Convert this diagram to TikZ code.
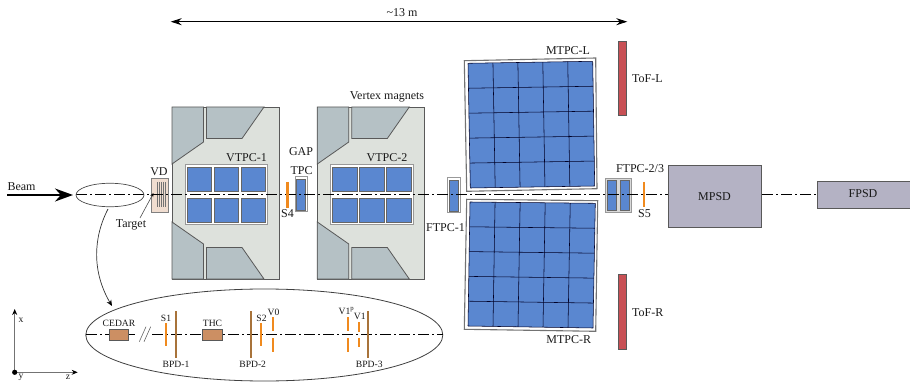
\documentclass[tikz,border=0pt]{standalone}
\usepackage{fontspec}
\setmainfont{Liberation Serif}
\usetikzlibrary{arrows.meta,shapes.geometric}
\definecolor{magfill}{HTML}{DDE1DC}
\definecolor{yokefill}{HTML}{B5C1C5}
\definecolor{bluefill}{HTML}{5A87D0}
\definecolor{orangefill}{HTML}{F08A1E}
\definecolor{brownfill}{HTML}{A8733A}
\definecolor{boxfill}{HTML}{CC8F63}
\definecolor{vdfill}{HTML}{F0DDD0}
\definecolor{psdfill}{HTML}{B4B2C4}
\definecolor{toffill}{HTML}{C85055}
\tikzset{
 x=1pt,y=-1pt,
 lbl/.style={inner sep=0pt,font=\fontsize{12}{14}\selectfont,text=black!90},
 slbl/.style={inner sep=0pt,font=\fontsize{9.6}{11}\selectfont,text=black!90},
 magnet/.style={draw=black!65,fill=magfill,line width=.8pt},
 yoke/.style={draw=black!65,fill=yokefill,line width=.8pt},
 frameb/.style={draw=black!40,fill=white,line width=1pt},
 bluebox/.style={draw=black!60,fill=bluefill,line width=.7pt},
 det/.style={draw=orangefill,line width=2.1pt},
 bpd/.style={draw=brownfill,line width=2.1pt},
 beamline/.style={draw=black,line width=1pt,dash pattern=on 11pt off 3pt on 2pt off 3pt},
 smallbox/.style={draw=black!65,fill=boxfill,line width=.7pt},
 psd/.style={draw=black!65,fill=psdfill,line width=.8pt},
 tof/.style={draw=black!65,fill=toffill,line width=.8pt},
 axis/.style={draw=black!55,line width=.8pt,-{Stealth[black,length=6pt,width=5pt]}},
}
\newcommand{\quadmesh}[8]{% x1 y1 x2 y2 x3 y3 x4 y4 (TL TR BR BL)
 \fill[bluefill] (#1,#2)--(#3,#4)--(#5,#6)--(#7,#8)--cycle;
 \foreach \t in {0,1,...,5}{
  \pgfmathsetmacro{\f}{\t/5}
  \draw[black!85!blue,line width=.55pt]
   ({#1+(#3-#1)*\f},{#2+(#4-#2)*\f})--({#7+(#5-#7)*\f},{#8+(#6-#8)*\f});
  \draw[black!85!blue,line width=.55pt]
   ({#1+(#7-#1)*\f},{#2+(#8-#2)*\f})--({#3+(#5-#3)*\f},{#4+(#6-#4)*\f});
 }
}
\newcommand{\vtpc}[2]{% x offset, name
 \begin{scope}[shift={(#1,0)}]
 \node[magnet,minimum width=107pt,minimum height=172pt,anchor=north west,inner sep=0pt] (mag#2) at (172,107) {};
 \draw[yoke] (172,107)--(203.5,107)--(203.5,142)--(172,164)--cycle;
 \draw[yoke] (206.5,107)--(264,107)--(242,138.5)--(206.5,138.5)--cycle;
 \draw[yoke] (172,222)--(203.5,244)--(203.5,279)--(172,279)--cycle;
 \draw[yoke] (206.5,247.5)--(242,247.5)--(264,279)--(206.5,279)--cycle;
 \draw[frameb] (185.3,165) rectangle (267.7,224.7);
 \foreach \a/\b in {187/211.7,214/238.7,241/265.7}{
  \draw[bluebox] (\a,167.3) rectangle (\b,191.7);
  \draw[bluebox] (\a,198.7) rectangle (\b,222.7);
 }
 \end{scope}
}
\begin{document}
\begin{tikzpicture}
\useasboundingbox (0,0) rectangle (910,382);
% magnets
\vtpc{0}{a}
\vtpc{145.3}{b}
% MTPC
\draw[draw=black!55,fill=white,line width=1.1pt] (464.3,60.7)--(595.7,58)--(597,188.7)--(466.7,191.3)--cycle;
\quadmesh{468}{63.3}{592.7}{61.3}{594.7}{186}{470.3}{188}
\draw[draw=black!55,fill=white,line width=1.1pt] (466.7,199.3)--(597.7,200.7)--(595.7,331.3)--(464.3,329.3)--cycle;
\quadmesh{470}{202}{595.3}{203.3}{593}{328}{468}{326}
% VD
\node[draw=black!50,fill=vdfill,line width=.8pt,minimum width=17pt,minimum height=34pt,inner sep=0pt] (vd) at (159.5,195) {};
\foreach \x in {157.5,159.5,161.5,163.5,165.5}
 \draw[black!55,line width=.7pt] (\x,182)--(\x,207);
% GAP TPC, FTPCs
\draw[frameb] (295,177) rectangle (307,212);
\draw[bluebox] (296.7,179) rectangle (305.3,210);
\draw[frameb] (447.3,178) rectangle (460.3,213);
\draw[bluebox] (449.3,180.7) rectangle (458.3,211.7);
\draw[draw=black!40,fill=black!15,line width=1pt] (605.7,178.3) rectangle (631,212.3);
\draw[bluebox] (607.7,180) rectangle (616.7,210.7);
\draw[bluebox] (620.3,180) rectangle (629,210.7);
% PSD
\node[psd,minimum width=93.4pt,minimum height=62.4pt,inner sep=0pt] (mpsd) at (715,196.5) {};
\draw[psd] (817.7,181.7) -- (911,181.7) -- (911,208.3) -- (817.7,208.3) -- cycle;
\coordinate (fpsdw) at (817.7,195);
% ToF
\draw[tof] (618,41.3) rectangle (626.7,115);
\draw[tof] (618,274.3) rectangle (626.7,349);
% beam line
\coordinate (bl0) at (76,195);
\draw[beamline] (bl0)--(mpsd.west |- bl0);
\draw[beamline] (mpsd.east |- bl0)--(fpsdw);
% orange scintillators
\draw[det] (287.5,182)--(287.5,208);
\draw[det] (644,182)--(644,207);
% beam arrow
\coordinate (beam0) at (7,195);
\coordinate (beam1) at (73,195);
\draw[black,line width=1.6pt,-{Stealth[length=18pt,width=13pt]}] (beam0)--(beam1);
\node[draw=black!70,line width=.7pt,ellipse,minimum width=68pt,minimum height=23.5pt,inner sep=0pt] (upell) at (110,195) {};
% target arrow
\coordinate (tgt) at (153.5,193);
\node[lbl] (target) at (131,224.5) {Target};
\coordinate (tgt0) at (140,218);
\draw[black!70,line width=.6pt,-{Stealth[black,length=4pt,width=3.5pt]}] (tgt0)--(tgt);
% lower ellipse
\node[draw=black!75,line width=.8pt,ellipse,minimum width=357pt,minimum height=92pt,inner sep=0pt] (lowell) at (264.3,335) {};
\coordinate (callA) at (108,209);
\coordinate (callB) at (112,306);
\draw[black!80,line width=.7pt,-{Stealth[black,length=6pt,width=5pt]}] (callA) .. controls (93,238) and (92,272) .. (callB);
% lower beam line
\draw[beamline] (86,334.3)--(137,334.3);
\draw[beamline] (152,334.3)--(442.7,334.3);
\draw[black!60,line width=.6pt] (139.3,341.7)--(146,326.7) (144,341.7)--(150.7,326.7);
\draw[smallbox] (109.3,329.3) rectangle (128.7,340.3);
\draw[smallbox] (202.3,329.3) rectangle (222,340.3);
\foreach \x in {176,251.3,368.3} \draw[bpd] (\x,311)--(\x,358.3);
\foreach \x in {166,261} \draw[det] (\x,323.3)--(\x,345.7);
\foreach \x in {272.7,348} {\draw[det] (\x,317.3)--(\x,331); \draw[det] (\x,338.3)--(\x,352);}
\draw[det] (359.3,322)--(359.3,331.7);
\draw[det] (359.3,337.7)--(359.3,347);
% axes
\coordinate (orig) at (14.7,372.3);
\coordinate (xend) at (14.7,309);
\coordinate (zend) at (77.7,372.3);
\draw[axis] (orig)--(xend);
\draw[axis] (orig)--(zend);
\fill[black] (orig) circle (2.6pt);
% dimension
\coordinate (dimL) at (170.7,21.7);
\coordinate (dimR) at (627.3,21.7);
\draw[black,line width=.9pt,{Stealth[length=11pt,width=7pt]}-{Stealth[length=11pt,width=7pt]}] (dimL)--(dimR);
% labels
\node[lbl] at (402,12.5) {\textasciitilde13 m};
\node[lbl] at (21.5,187) {Beam};
\node[lbl] at (159,172) {VD};
\node[lbl] at (246.5,158) {VTPC-1};
\node[lbl] at (387,158) {VTPC-2};
\node[lbl] at (387,97) {Vertex magnets};
\node[lbl] at (301,152) {GAP};
\node[lbl] at (301.5,170.5) {TPC};
\node[lbl] at (287.5,214) {S4};
\node[lbl] at (445.5,228) {FTPC-1};
\node[lbl] at (568,51) {MTPC-L};
\node[lbl] at (568.7,340) {MTPC-R};
\node[lbl,anchor=west] at (632,78.7) {ToF-L};
\node[lbl,anchor=west] at (632,312.3) {ToF-R};
\node[lbl] at (640,169) {FTPC-2/3};
\node[lbl] at (644.5,214) {S5};
\node[lbl] at (714.5,197) {MPSD};
\node[lbl] at (863,194) {FPSD};
\node[slbl] at (119,323) {CEDAR};
\node[slbl] at (212.5,323) {THC};
\node[slbl] at (166,318) {S1};
\node[slbl] at (176,364) {BPD-1};
\node[slbl] at (252.7,364) {BPD-2};
\node[slbl] at (369.3,364) {BPD-3};
\node[slbl] at (261.5,318) {S2};
\node[slbl] at (273.5,312) {V0};
\node[slbl] at (346.5,311) {V1\textsuperscript{p}};
\node[slbl] at (359.7,316.7) {V1};
\node[slbl] at (21,320) {x};
\node[slbl] at (21,377.5) {y};
\node[slbl] at (68,377.5) {z};
\end{tikzpicture}
\end{document}
